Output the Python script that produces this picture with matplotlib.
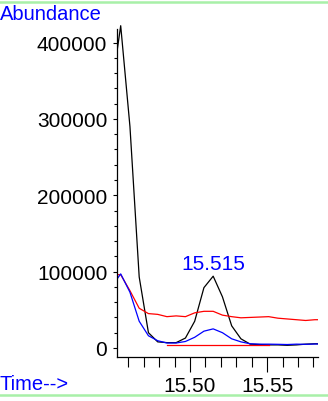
import matplotlib
matplotlib.use('Agg')
import matplotlib.pyplot as plt
from matplotlib.lines import Line2D
from matplotlib.patches import Rectangle
from matplotlib.ticker import MultipleLocator, FormatStrFormatter

plt.rcParams['font.family'] = ['Liberation Sans', 'DejaVu Sans']

# retention times (min)
times = [15.449, 15.455, 15.461, 15.467, 15.473, 15.479, 15.485, 15.491,
         15.497, 15.503, 15.509, 15.515, 15.521, 15.527, 15.533, 15.539,
         15.545, 15.551, 15.557, 15.563, 15.569, 15.575, 15.581, 15.587]

black = [337000, 422000, 290000, 93000, 20000, 8000, 7000, 7000,
         13000, 35000, 79000, 94000, 67000, 29000, 12000, 5000,
         4500, 4000, 4000, 3500, 4000, 5000, 5500, 5500]
red = [96000, 96000, 75000, 52000, 45000, 44000, 41000, 42000,
       41000, 46000, 48000, 48000, 43000, 41000, 39500, 40000,
       40500, 41000, 39000, 38000, 37000, 36000, 37000, 37000]
blue = [80000, 97000, 73000, 35000, 16000, 9500, 6500, 6500,
        8500, 14000, 22000, 25000, 20000, 12000, 8000, 5500,
        5000, 5000, 4800, 4500, 5000, 4800, 5200, 5200]

# baseline segment under the peak
base_t = [15.485, 15.551]
base_y = [4000, 4000]

peak_time = 15.515
peak_label = '15.515'
peak_height = 94000

fig = plt.figure(figsize=(3.28, 4.02), dpi=100)
ax = fig.add_axes([0.3567, 0.1095, 0.6128, 0.8159])

tic, = ax.plot(times, black, color='black', lw=0.9)
ax.plot(times, red, color='red', lw=0.9)
ax.plot(base_t, base_y, color='red', lw=0.9)
ax.plot(times, blue, color='blue', lw=0.9)

# clip left/right only, let the tall peak poke over the top
tic.set_clip_path(Rectangle((0, -0.1), 1, 1.3, transform=ax.transAxes))

ax.set_xlim(15.4526, 15.583)
ax.set_ylim(-11800, 417700)

ax.annotate(peak_label, (peak_time, peak_height), xytext=(0, 2),
            textcoords='offset points', ha='center', va='bottom',
            color='blue', fontsize=15)

for s in ['top', 'right']:
    ax.spines[s].set_visible(False)
ax.spines['left'].set_linewidth(0.9)
ax.spines['bottom'].set_linewidth(0.9)

ax.xaxis.set_major_locator(MultipleLocator(0.05))
ax.xaxis.set_minor_locator(MultipleLocator(0.01))
ax.xaxis.set_major_formatter(FormatStrFormatter('%.2f'))
ax.yaxis.set_major_locator(MultipleLocator(100000))
ax.yaxis.set_minor_locator(MultipleLocator(20000))

ax.tick_params(axis='x', which='major', length=11, width=0.8, labelsize=15, pad=3)
ax.tick_params(axis='x', which='minor', length=7, width=0.8)
ax.tick_params(axis='y', which='major', length=3, width=0.8, labelsize=15, pad=4)
ax.tick_params(axis='y', which='minor', length=2, width=0.8)

fig.text(0.0, 1 - 14.5 / 402, 'Abundance', color='blue', fontsize=14.5,
         ha='left', va='center')
fig.text(0.0, 1 - 385 / 402, 'Time-->', color='blue', fontsize=14.5,
         ha='left', va='center')

green = '#a8f0a8'
fig.add_artist(Line2D([0, 1], [1 - 2.5 / 402, 1 - 2.5 / 402], color=green, lw=1.8,
                      transform=fig.transFigure))
fig.add_artist(Line2D([0, 1], [1 - 396 / 402, 1 - 396 / 402], color=green, lw=1.8,
                      transform=fig.transFigure))

fig.savefig('out.png', dpi=100)
